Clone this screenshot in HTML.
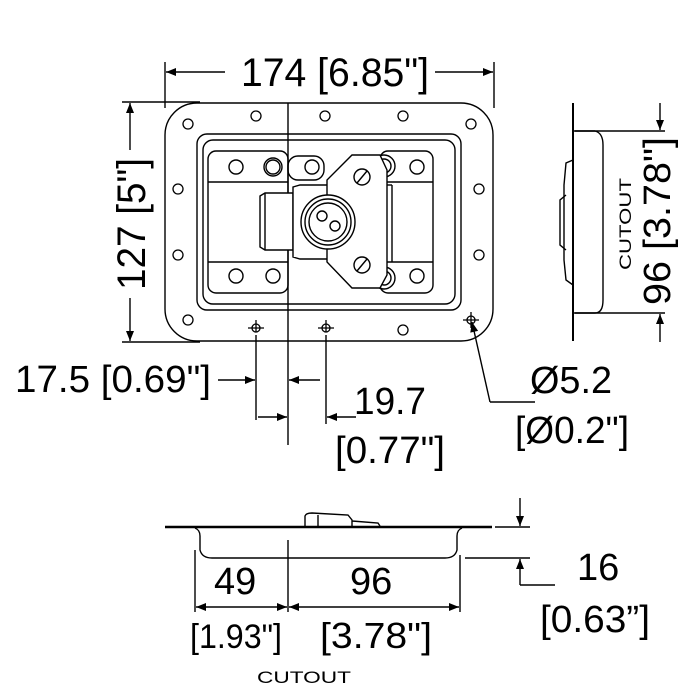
<!DOCTYPE html>
<html><head><meta charset="utf-8"><style>html,body{margin:0;padding:0;background:#fff}svg{display:block}</style></head>
<body>
<svg width="700" height="700" viewBox="0 0 700 700" xmlns="http://www.w3.org/2000/svg" font-family="Liberation Sans, Arial, sans-serif">
<defs>
<marker id="a" viewBox="0 0 10 10" refX="10" refY="5" markerWidth="14" markerHeight="10" markerUnits="userSpaceOnUse" orient="auto"><path d="M0,1 L10,5 L0,9 z" fill="#000"/></marker>
</defs>
<g fill="none" stroke="#000" stroke-width="1.4">
<line x1="165" y1="62" x2="165" y2="108"/>
<line x1="494" y1="62" x2="494" y2="108"/>
<line x1="225" y1="72" x2="166" y2="72" marker-end="url(#a)"/>
<line x1="435" y1="72" x2="493" y2="72" marker-end="url(#a)"/>
<line x1="122" y1="102" x2="200" y2="102"/>
<line x1="122" y1="342" x2="200" y2="342"/>
<line x1="130" y1="150" x2="130" y2="103" marker-end="url(#a)"/>
<line x1="130" y1="298" x2="130" y2="341" marker-end="url(#a)"/>
<rect x="165" y="103" width="328" height="238" rx="32"/>
<rect x="197" y="134" width="264" height="176" rx="10"/>
<rect x="203" y="140" width="252" height="164" rx="10"/>
<rect x="208" y="151" width="80" height="142" rx="8"/>
<rect x="380" y="151" width="53" height="142" rx="8"/>
<line x1="208" y1="182" x2="288" y2="182"/><line x1="208" y1="262" x2="288" y2="262"/>
<line x1="380" y1="182" x2="433" y2="182"/><line x1="380" y1="262" x2="433" y2="262"/>
<rect x="288" y="156" width="36" height="24" rx="10"/>
<line x1="288" y1="103" x2="288" y2="445"/>
<g stroke-width="1.3">
<circle cx="256" cy="116" r="5"/><circle cx="325" cy="116" r="5"/><circle cx="403" cy="116" r="5"/>
<circle cx="188" cy="124" r="5"/><circle cx="471" cy="124" r="5"/>
<circle cx="178" cy="189" r="5"/><circle cx="479" cy="189" r="5"/>
<circle cx="178" cy="255" r="5"/><circle cx="479" cy="255" r="5"/>
<circle cx="188" cy="320" r="5"/><circle cx="403" cy="330" r="5"/>
<circle cx="256" cy="328" r="4"/><circle cx="326" cy="328" r="4"/><circle cx="471" cy="320" r="4"/>
<path d="M248,328h16M256,320v12M318,328h16M326,320v12M463,320h16M471,312v16"/>
</g>
<circle cx="236" cy="167" r="7"/><circle cx="273" cy="167" r="7"/><circle cx="273" cy="167" r="9"/><circle cx="312" cy="167" r="7"/>
<circle cx="236" cy="276" r="7"/><circle cx="273" cy="276" r="7"/>
<circle cx="417" cy="167" r="7"/><circle cx="417" cy="276" r="7"/>
<circle cx="384" cy="166" r="11"/><circle cx="384" cy="166" r="7"/>
<circle cx="384" cy="278" r="11"/><circle cx="384" cy="278" r="7"/>
<path d="M260,196 L265,193 L293,193 L293,250 L265,250 L260,247 Z" fill="#fff"/>
<line x1="265" y1="193" x2="265" y2="250"/>
<path d="M293,187 L300,185 L335,185 L335,259 L300,259 L293,257 Z" fill="#fff"/>
<path d="M352,155 L380,155 L387,170 L387,275 L380,288 L352,288 L327,262 L327,180 Z" fill="#fff"/>
<circle cx="328" cy="222" r="27" fill="#fff"/><circle cx="328" cy="222" r="23"/><circle cx="328" cy="222" r="19"/>
<circle cx="322" cy="216" r="5"/><circle cx="335" cy="226" r="5"/>
<line x1="387" y1="185" x2="392" y2="185"/><line x1="392" y1="185" x2="392" y2="262"/>
<circle cx="362" cy="177" r="8"/><line x1="357" y1="183" x2="367" y2="171"/>
<circle cx="362" cy="265" r="8"/><line x1="357" y1="271" x2="367" y2="259"/>
<line x1="490" y1="402" x2="472" y2="322" marker-end="url(#a)"/>
<line x1="490" y1="402" x2="535" y2="402"/>
<line x1="256" y1="335" x2="256" y2="420"/>
<line x1="326" y1="335" x2="326" y2="424"/>
<line x1="218" y1="380" x2="255" y2="380" marker-end="url(#a)"/>
<line x1="320" y1="380" x2="289" y2="380" marker-end="url(#a)"/>
<line x1="258" y1="417" x2="287" y2="417" marker-end="url(#a)"/>
<line x1="356" y1="417" x2="327" y2="417" marker-end="url(#a)"/>
<line x1="573" y1="103" x2="573" y2="341" stroke-width="2"/>
<path d="M573,131 L595,131 Q603,133 603,145 L603,300 Q603,313 595,313 L573,313"/>
<path d="M573,160 L566,163 L564,185 L564,260 L566,280 L573,285"/>
<path d="M566,195 L560,200 L560,245 L566,250"/>
<line x1="575" y1="131" x2="665" y2="131"/><line x1="575" y1="313" x2="665" y2="313"/>
<line x1="660" y1="103" x2="660" y2="130" marker-end="url(#a)"/>
<line x1="660" y1="342" x2="660" y2="314" marker-end="url(#a)"/>
<line x1="165" y1="527" x2="492" y2="527" stroke-width="2.5"/>
<path d="M195,528 Q200,530 200,536 L200,550 Q202,558 212,558 L445,558 Q455,558 457,550 L457,536 Q457,530 462,528"/>
<path d="M305,526 L305,516 Q306,513 312,513 L348,515 L352,520 L352,526 M318,515 L318,526 M352,521 L378,523 L380,526"/>
<line x1="195" y1="550" x2="195" y2="612"/><line x1="460" y1="555" x2="460" y2="612"/>
<line x1="288" y1="540" x2="288" y2="612"/>
<line x1="242" y1="607" x2="196" y2="607" marker-end="url(#a)"/>
<line x1="242" y1="607" x2="287" y2="607" marker-end="url(#a)"/>
<line x1="340" y1="607" x2="289" y2="607" marker-end="url(#a)"/>
<line x1="340" y1="607" x2="459" y2="607" marker-end="url(#a)"/>
<line x1="495" y1="527" x2="530" y2="527"/><line x1="465" y1="558" x2="530" y2="558"/>
<line x1="520" y1="498" x2="520" y2="526" marker-end="url(#a)"/>
<line x1="520" y1="585" x2="520" y2="559" marker-end="url(#a)"/>
<line x1="520" y1="585" x2="555" y2="585"/>
</g>
<g fill="#000" font-size="38">
<text x="241" y="86" font-size="40" textLength="188" lengthAdjust="spacingAndGlyphs">174 [6.85"]</text>
<text transform="translate(145,290) rotate(-90)" font-size="40" textLength="132" lengthAdjust="spacingAndGlyphs">127 [5"]</text>
<text x="15" y="392" textLength="196" lengthAdjust="spacingAndGlyphs">17.5 [0.69"]</text>
<text x="354" y="414" textLength="72" lengthAdjust="spacingAndGlyphs">19.7</text>
<text x="335" y="463" textLength="110" lengthAdjust="spacingAndGlyphs">[0.77"]</text>
<text x="530" y="393" textLength="82" lengthAdjust="spacingAndGlyphs">Ø5.2</text>
<text x="515" y="443" textLength="114" lengthAdjust="spacingAndGlyphs">[Ø0.2"]</text>
<text transform="translate(670,305) rotate(-90)" textLength="168" lengthAdjust="spacingAndGlyphs">96 [3.78"]</text>
<text transform="translate(631,270) rotate(-90)" font-size="17" textLength="92" lengthAdjust="spacingAndGlyphs">CUTOUT</text>
<text x="214" y="594">49</text>
<text x="350" y="594">96</text>
<text x="190" y="648" font-size="34" textLength="92" lengthAdjust="spacingAndGlyphs">[1.93"]</text>
<text x="320" y="648" font-size="36" textLength="112" lengthAdjust="spacingAndGlyphs">[3.78"]</text>
<text x="257" y="683" font-size="17" textLength="94" lengthAdjust="spacingAndGlyphs">CUTOUT</text>
<text x="577" y="580">16</text>
<text x="540" y="632" textLength="110" lengthAdjust="spacingAndGlyphs">[0.63”]</text>
</g>
</svg>
</body></html>
